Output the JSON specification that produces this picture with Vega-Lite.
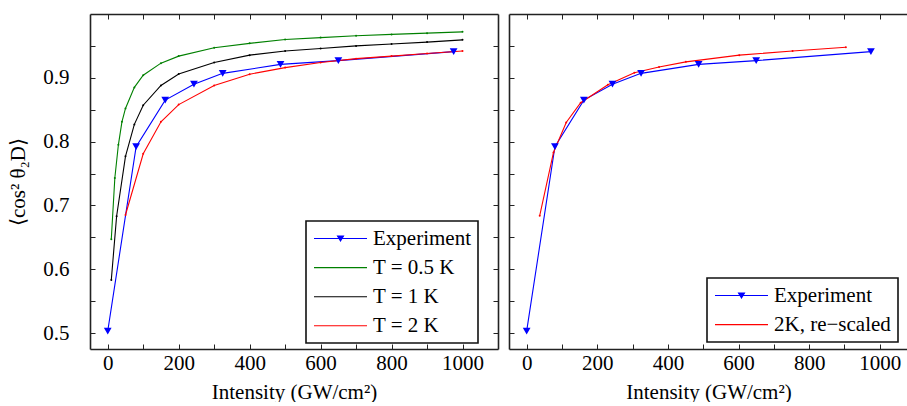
{
  "$schema": "https://vega.github.io/schema/vega-lite/v6.json",
  "padding": {"left": 7, "top": 13, "right": 0, "bottom": 0},
  "autosize": {"type": "pad"},
  "config": {
    "font": "Liberation Serif",
    "view": {"stroke": null},
    "axis": {
      "labelFont": "Liberation Serif", "titleFont": "Liberation Serif",
      "labelFontSize": 21, "titleFontSize": 21, "titleFontWeight": "normal",
      "labelColor": "black", "titleColor": "black",
      "domainColor": "#222222", "tickColor": "#222222", "domainWidth": 1.6, "tickWidth": 1,
      "tickSize": 5, "grid": false
    },
    "legend": {
      "orient": "none", "title": null,
      "strokeColor": "#111111", "strokeWidth": 1.6, "fillColor": "white",
      "padding": 7, "labelFont": "Liberation Serif", "labelFontSize": 21, "labelColor": "black",
      "symbolSize": 100, "symbolStrokeWidth": 1.1, "symbolOffset": 17, "labelOffset": 22,
      "rowPadding": 7.1, "cornerRadius": 0
    }
  },
  "datasets": {
    "left": [
      {"series": "Experiment", "intensity": 0, "value": 0.503},
      {"series": "Experiment", "intensity": 80, "value": 0.792},
      {"series": "Experiment", "intensity": 162, "value": 0.865},
      {"series": "Experiment", "intensity": 243, "value": 0.890},
      {"series": "Experiment", "intensity": 324, "value": 0.907},
      {"series": "Experiment", "intensity": 487, "value": 0.921},
      {"series": "Experiment", "intensity": 650, "value": 0.927},
      {"series": "Experiment", "intensity": 975, "value": 0.941},
      {"series": "T = 0.5 K", "intensity": 10, "value": 0.647},
      {"series": "T = 0.5 K", "intensity": 20, "value": 0.743},
      {"series": "T = 0.5 K", "intensity": 30, "value": 0.795},
      {"series": "T = 0.5 K", "intensity": 40, "value": 0.831},
      {"series": "T = 0.5 K", "intensity": 50, "value": 0.852},
      {"series": "T = 0.5 K", "intensity": 75, "value": 0.885},
      {"series": "T = 0.5 K", "intensity": 100, "value": 0.904},
      {"series": "T = 0.5 K", "intensity": 150, "value": 0.923},
      {"series": "T = 0.5 K", "intensity": 200, "value": 0.934},
      {"series": "T = 0.5 K", "intensity": 300, "value": 0.947},
      {"series": "T = 0.5 K", "intensity": 400, "value": 0.954},
      {"series": "T = 0.5 K", "intensity": 500, "value": 0.960},
      {"series": "T = 0.5 K", "intensity": 600, "value": 0.963},
      {"series": "T = 0.5 K", "intensity": 700, "value": 0.966},
      {"series": "T = 0.5 K", "intensity": 800, "value": 0.968},
      {"series": "T = 0.5 K", "intensity": 900, "value": 0.970},
      {"series": "T = 0.5 K", "intensity": 1000, "value": 0.972},
      {"series": "T = 1 K", "intensity": 10, "value": 0.583},
      {"series": "T = 1 K", "intensity": 25, "value": 0.683},
      {"series": "T = 1 K", "intensity": 50, "value": 0.777},
      {"series": "T = 1 K", "intensity": 75, "value": 0.827},
      {"series": "T = 1 K", "intensity": 100, "value": 0.857},
      {"series": "T = 1 K", "intensity": 150, "value": 0.888},
      {"series": "T = 1 K", "intensity": 200, "value": 0.906},
      {"series": "T = 1 K", "intensity": 300, "value": 0.924},
      {"series": "T = 1 K", "intensity": 400, "value": 0.9355},
      {"series": "T = 1 K", "intensity": 500, "value": 0.942},
      {"series": "T = 1 K", "intensity": 600, "value": 0.946},
      {"series": "T = 1 K", "intensity": 700, "value": 0.950},
      {"series": "T = 1 K", "intensity": 800, "value": 0.953},
      {"series": "T = 1 K", "intensity": 900, "value": 0.956},
      {"series": "T = 1 K", "intensity": 1000, "value": 0.9595},
      {"series": "T = 2 K", "intensity": 50, "value": 0.685},
      {"series": "T = 2 K", "intensity": 100, "value": 0.781},
      {"series": "T = 2 K", "intensity": 150, "value": 0.831},
      {"series": "T = 2 K", "intensity": 200, "value": 0.858},
      {"series": "T = 2 K", "intensity": 300, "value": 0.888},
      {"series": "T = 2 K", "intensity": 400, "value": 0.9056},
      {"series": "T = 2 K", "intensity": 500, "value": 0.916},
      {"series": "T = 2 K", "intensity": 600, "value": 0.924},
      {"series": "T = 2 K", "intensity": 700, "value": 0.930},
      {"series": "T = 2 K", "intensity": 800, "value": 0.934},
      {"series": "T = 2 K", "intensity": 900, "value": 0.938},
      {"series": "T = 2 K", "intensity": 1000, "value": 0.942}
    ],
    "right": [
      {"series": "Experiment", "intensity": 0, "value": 0.503},
      {"series": "Experiment", "intensity": 80, "value": 0.792},
      {"series": "Experiment", "intensity": 162, "value": 0.865},
      {"series": "Experiment", "intensity": 243, "value": 0.890},
      {"series": "Experiment", "intensity": 324, "value": 0.907},
      {"series": "Experiment", "intensity": 487, "value": 0.921},
      {"series": "Experiment", "intensity": 650, "value": 0.927},
      {"series": "Experiment", "intensity": 975, "value": 0.941},
      {"series": "2K, re−scaled", "intensity": 37, "value": 0.684},
      {"series": "2K, re−scaled", "intensity": 76, "value": 0.783},
      {"series": "2K, re−scaled", "intensity": 112, "value": 0.830},
      {"series": "2K, re−scaled", "intensity": 153, "value": 0.861},
      {"series": "2K, re−scaled", "intensity": 230, "value": 0.889},
      {"series": "2K, re−scaled", "intensity": 305, "value": 0.908},
      {"series": "2K, re−scaled", "intensity": 375, "value": 0.917},
      {"series": "2K, re−scaled", "intensity": 451, "value": 0.925},
      {"series": "2K, re−scaled", "intensity": 602, "value": 0.9355},
      {"series": "2K, re−scaled", "intensity": 753, "value": 0.942},
      {"series": "2K, re−scaled", "intensity": 904, "value": 0.948}
    ]
  },
  "spacing": 9,
  "resolve": {"scale": {"color": "independent", "x": "independent", "y": "independent"}, "legend": {"color": "independent"}},
  "hconcat": [
    {
      "width": 408, "height": 335,
      "data": {"name": "left"},
      "resolve": {"axis": {"x": "independent", "y": "independent"}},
      "layer": [
        {
          "mark": {"type": "line", "strokeWidth": 1.1},
          "encoding": {
            "x": {"field": "intensity", "type": "quantitative",
              "scale": {"domain": [-50, 1100], "nice": false, "zero": false},
              "axis": {"orient": "bottom", "values": [0,200,400,600,800,1000], "format": "d",
                "labelFont": "Liberation Serif", "titleFont": "Liberation Serif", "labelFontSize": 21, "titleFontSize": 21, "titleFontWeight": "normal",
                "ticks": false, "tickSize": 0,
                "encode": {"labels": {"update": {"font": {"value": "Liberation Serif"}}}, "title": {"update": {"font": {"value": "Liberation Serif"}}}},
                "title": "Intensity (GW/cm²)", "labelPadding": 3, "titlePadding": 8}},
            "y": {"field": "value", "type": "quantitative",
              "scale": {"domain": [0.475, 1.0], "nice": false, "zero": false},
              "axis": {"orient": "left", "values": [0.5,0.6,0.7,0.8,0.9], "format": ".1f",
                "labelFont": "Liberation Serif", "titleFont": "Liberation Serif", "labelFontSize": 21, "titleFontSize": 21, "titleFontWeight": "normal",
                "ticks": false, "tickSize": 0,
                "encode": {"labels": {"update": {"font": {"value": "Liberation Serif"}}}, "title": {"update": {"font": {"value": "Liberation Serif"}}}},
                "title": "⟨cos² θ₂D⟩", "labelPadding": 21, "titlePadding": 14}},
            "color": {"field": "series", "type": "nominal", "sort": null,
              "scale": {"domain": ["Experiment", "T = 0.5 K", "T = 1 K", "T = 2 K"], "range": ["#0000ff", "#008000", "#000000", "#ff0000"]},
              "legend": {"legendX": 216, "legendY": 207, "labelFont": "Liberation Serif", "labelFontSize": 21,
                "encode": {
                  "labels": {"update": {"font": {"value": "Liberation Serif"}}},
                  "symbols": {"update": {
                  "shape": {"signal": "datum.value === 'Experiment' ? 'M-5.3,0H5.3M-0.6,-0.5H0.6L0,0.5Z' : 'M-5.3,0H5.3'"},
                  "fill": {"signal": "datum.value === 'Experiment' ? '#0000ff' : 'transparent'"}}}}}}
          }
        },
        {
          "transform": [{"filter": "datum.series === 'Experiment'"}],
          "mark": {"type": "point", "shape": "triangle-down", "filled": true, "color": "#0000ff", "size": 60, "opacity": 1},
          "encoding": {
            "x": {"field": "intensity", "type": "quantitative",
              "axis": {"orient": "top", "offset": -335, "domain": false, "values": [0,100,200,300,400,500,600,700,800,900,1000], "labels": false, "title": null}},
            "y": {"field": "value", "type": "quantitative",
              "axis": {"orient": "right", "offset": -408, "domain": false, "values": [0.5,0.55,0.6,0.65,0.7,0.75,0.8,0.85,0.9,0.95], "labels": false, "title": null}}
          }
        },
        {
          "transform": [{"filter": "datum.series !== 'Experiment'"}],
          "mark": {"type": "point", "filled": true, "size": 4, "opacity": 1},
          "encoding": {
            "x": {"field": "intensity", "type": "quantitative",
              "axis": {"orient": "bottom", "offset": -335, "values": [0,100,200,300,400,500,600,700,800,900,1000], "labels": false, "title": null}},
            "y": {"field": "value", "type": "quantitative",
              "axis": {"orient": "left", "offset": -408, "values": [0.5,0.55,0.6,0.65,0.7,0.75,0.8,0.85,0.9,0.95], "labels": false, "title": null}},
            "color": {"field": "series", "type": "nominal", "legend": null}
          }
        }
      ]
    },
    {
      "width": 399, "height": 335,
      "data": {"name": "right"},
      "resolve": {"axis": {"x": "independent", "y": "independent"}},
      "layer": [
        {
          "mark": {"type": "line", "strokeWidth": 1.1},
          "encoding": {
            "x": {"field": "intensity", "type": "quantitative",
              "scale": {"domain": [-50, 1080], "nice": false, "zero": false},
              "axis": {"orient": "bottom", "values": [0,200,400,600,800,1000], "format": "d",
                "labelFont": "Liberation Serif", "titleFont": "Liberation Serif", "labelFontSize": 21, "titleFontSize": 21, "titleFontWeight": "normal",
                "ticks": false, "tickSize": 0,
                "encode": {"labels": {"update": {"font": {"value": "Liberation Serif"}}}, "title": {"update": {"font": {"value": "Liberation Serif"}}}},
                "title": "Intensity (GW/cm²)", "labelPadding": 3, "titlePadding": 8}},
            "y": {"field": "value", "type": "quantitative",
              "scale": {"domain": [0.475, 1.0], "nice": false, "zero": false},
              "axis": {"orient": "left", "values": [0.5,0.6,0.7,0.8,0.9], "ticks": false, "tickSize": 0,
                "labels": false, "title": null}},
            "color": {"field": "series", "type": "nominal", "sort": null,
              "scale": {"domain": ["Experiment", "2K, re−scaled"], "range": ["#0000ff", "#ff0000"]},
              "legend": {"legendX": 198, "legendY": 264, "labelFont": "Liberation Serif", "labelFontSize": 21,
                "encode": {
                  "labels": {"update": {"font": {"value": "Liberation Serif"}}},
                  "symbols": {"update": {
                  "shape": {"signal": "datum.value === 'Experiment' ? 'M-5.3,0H5.3M-0.6,-0.5H0.6L0,0.5Z' : 'M-5.3,0H5.3'"},
                  "fill": {"signal": "datum.value === 'Experiment' ? '#0000ff' : 'transparent'"}}}}}}
          }
        },
        {
          "transform": [{"filter": "datum.series === 'Experiment'"}],
          "mark": {"type": "point", "shape": "triangle-down", "filled": true, "color": "#0000ff", "size": 60, "opacity": 1},
          "encoding": {
            "x": {"field": "intensity", "type": "quantitative",
              "axis": {"orient": "top", "offset": -335, "domain": false, "values": [0,100,200,300,400,500,600,700,800,900,1000], "labels": false, "title": null}},
            "y": {"field": "value", "type": "quantitative",
              "axis": {"orient": "right", "offset": -399, "domain": false, "values": [0.5,0.55,0.6,0.65,0.7,0.75,0.8,0.85,0.9,0.95], "labels": false, "title": null}}
          }
        },
        {
          "transform": [{"filter": "datum.series !== 'Experiment'"}],
          "mark": {"type": "point", "filled": true, "size": 4, "opacity": 1},
          "encoding": {
            "x": {"field": "intensity", "type": "quantitative",
              "axis": {"orient": "bottom", "offset": -335, "values": [0,100,200,300,400,500,600,700,800,900,1000], "labels": false, "title": null}},
            "y": {"field": "value", "type": "quantitative", "axis": null},
            "color": {"field": "series", "type": "nominal", "legend": null}
          }
        }
      ]
    }
  ]
}
